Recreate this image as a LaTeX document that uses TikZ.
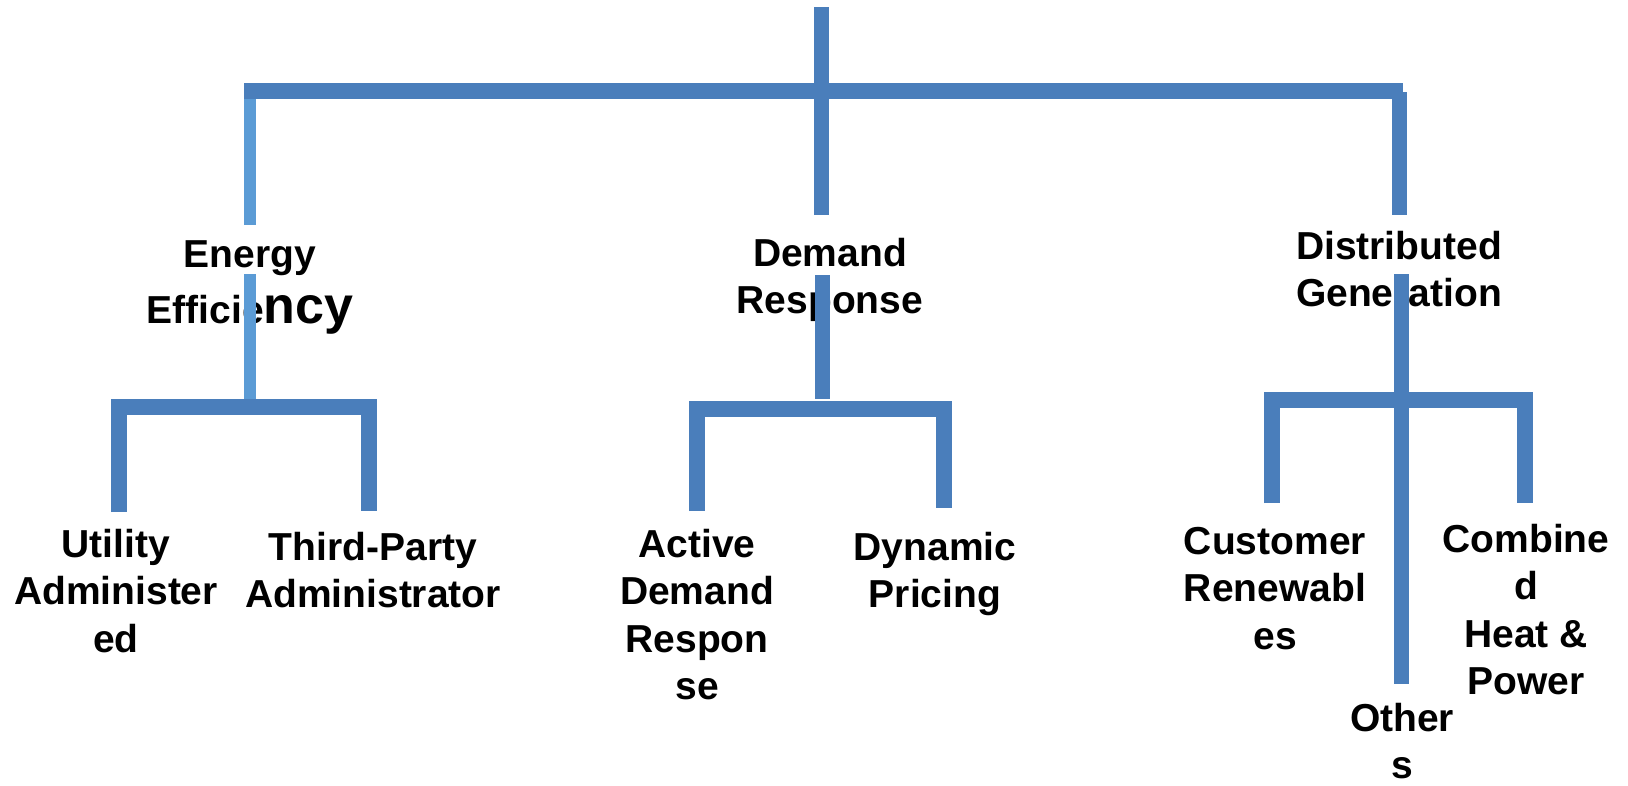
\documentclass[tikz,border=0pt]{standalone}
\usepackage{fontspec}
\setmainfont{Liberation Sans}
\definecolor{mainblue}{HTML}{4A7EBB}
\definecolor{lightblue}{HTML}{5B9BD5}
\newcommand\lblstack[1]{\begin{tabular}[t]{@{}c@{}}#1\end{tabular}}
\begin{document}
\begin{tikzpicture}[x=1pt,y=-1pt,
  conn/.style={draw=mainblue,line width=15pt,line cap=butt},
  bar/.style={draw=mainblue,line width=16pt,line cap=butt,line join=miter},
  lconn/.style={draw=lightblue,line width=12pt,line cap=butt},
  lbl/.style={anchor=base,inner sep=0pt,font=\fontsize{39}{47.5}\selectfont\bfseries}]
\useasboundingbox (0,0) rectangle (1628,785);

% coordinates
\coordinate (rootTop) at (821,7);
\coordinate (rootBot) at (821,215);
\coordinate (barL) at (244,91);
\coordinate (barR) at (1403,91);
\coordinate (eeTop) at (250,92);
\coordinate (eeUp) at (250,225);
\coordinate (eeDown) at (250,274);
\coordinate (eeJoin) at (250,399);
\coordinate (dgTop) at (1399,92);
\coordinate (dgUp) at (1399,215);
\coordinate (drDown) at (822,275);
\coordinate (drJoin) at (822,399);
\coordinate (dgDown) at (1401,274);
\coordinate (othEnd) at (1401,684);
% bracket corners
\coordinate (uaEnd) at (119,512);
\coordinate (uaTop) at (119,407);
\coordinate (tpTop) at (369,407);
\coordinate (tpEnd) at (369,511);
\coordinate (adEnd) at (697,511);
\coordinate (adTop) at (697,409);
\coordinate (dpTop) at (944,409);
\coordinate (dpEnd) at (944,508);
\coordinate (crEnd) at (1272,503);
\coordinate (crTop) at (1272,400);
\coordinate (chTop) at (1525,400);
\coordinate (chEnd) at (1525,503);

% labels
\node[lbl] (ee) at (250,267) {\lblstack{Energy\\[8.5pt]Efficie{\fontsize{52}{60}\selectfont ncy}}};
\node[lbl] (dr) at (830,266) {\lblstack{Demand\\Response}};
\node[lbl] (dg) at (1399,259) {\lblstack{Distributed\\Generation}};
\node[lbl] (ua) at (116,557) {\lblstack{Utility\\Administer\\ed}};
\node[lbl] (tp) at (373,560) {\lblstack{Third-Party\\Administrator}};
\node[lbl] (ad) at (697,557) {\lblstack{Active\\Demand\\Respon\\se}};
\node[lbl] (dp) at (935,560) {\lblstack{Dynamic\\Pricing}};
\node[lbl] (cr) at (1275,554) {\lblstack{Customer\\Renewabl\\es}};
\node[lbl] (ch) at (1526,552) {\lblstack{Combine\\d\\Heat \&\\Power}};
\node[lbl] (ot) at (1402,731) {\lblstack{Other\\s}};

% connectors
\draw[lconn] (eeTop) -- (eeUp);
\draw[lconn] (eeDown) -- (eeJoin);
\draw[bar] (barL) -- (barR);
\draw[conn] (dgTop) -- (dgUp);
\draw[conn] (rootTop) -- (rootBot);
\draw[conn] (drDown) -- (drJoin);
\draw[conn] (dgDown) -- (othEnd);
\draw[bar] (uaEnd) -- (uaTop) -- (tpTop) -- (tpEnd);
\draw[bar] (adEnd) -- (adTop) -- (dpTop) -- (dpEnd);
\draw[bar] (crEnd) -- (crTop) -- (chTop) -- (chEnd);
\end{tikzpicture}
\end{document}
